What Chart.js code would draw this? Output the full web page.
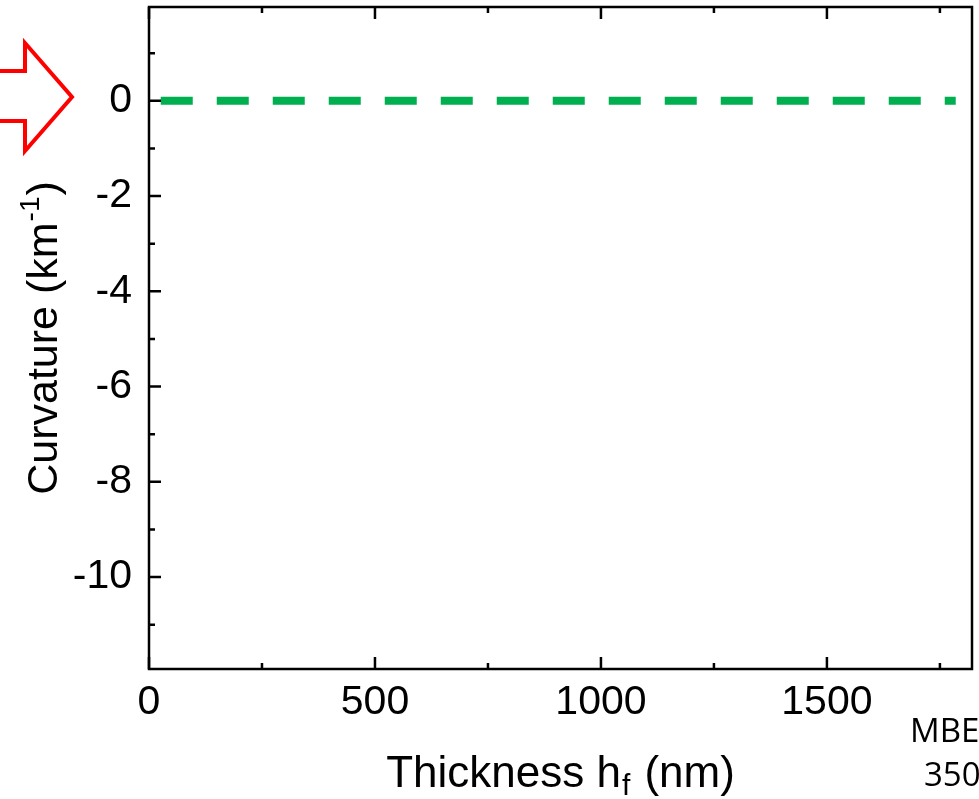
<!DOCTYPE html>
<html><head><meta charset="utf-8">
<script src="https://cdn.jsdelivr.net/npm/chart.js@4.4.0/dist/chart.umd.min.js"></script>
<style>html,body{margin:0;padding:0;background:#fff;overflow:hidden}#wrap{width:979px;height:799px;position:relative}</style>
</head><body><div id="wrap"><canvas id="c" width="979" height="799"></canvas></div>
<script>
// ---- data ----
const xTickValues = [0, 500, 1000, 1500];
const xMinorTicks = [250, 750, 1250, 1750];
const yTickValues = [-10, -8, -6, -4, -2, 0];
const yMinorTicks = [-11, -9, -7, -5, -3, -1, 1];
const lineX = [26, 1785];
const lineY = [0, 0];
const xTitleParts = ['Thickness h', 'f', ' (nm)'];
const yTitleParts = ['Curvature (km', '-1', ')'];
const noteLines = ['MBE', '350'];

const FAM = '"Liberation Sans", Arial, Helvetica, sans-serif';

const decor = {
  id: 'decor',
  afterDatasetsDraw(chart) {
    const ctx = chart.ctx, a = chart.chartArea;
    const xs = chart.scales.x, ys = chart.scales.y;
    ctx.save();
    ctx.strokeStyle = '#000';
    ctx.lineWidth = 2.5;
    ctx.lineCap = 'butt';
    ctx.strokeRect(a.left, a.top, a.right - a.left, a.bottom - a.top);
    ctx.beginPath();
    const MAJ = 12, MIN = 6;
    xTickValues.forEach(v => {
      const p = xs.getPixelForValue(v);
      ctx.moveTo(p, a.bottom); ctx.lineTo(p, a.bottom - MAJ);
      ctx.moveTo(p, a.top); ctx.lineTo(p, a.top + MAJ);
    });
    xMinorTicks.forEach(v => {
      const p = xs.getPixelForValue(v);
      ctx.moveTo(p, a.bottom); ctx.lineTo(p, a.bottom - MIN);
      ctx.moveTo(p, a.top); ctx.lineTo(p, a.top + MIN);
    });
    yTickValues.forEach(v => {
      const p = ys.getPixelForValue(v);
      ctx.moveTo(a.left, p); ctx.lineTo(a.left + MAJ, p);
    });
    yMinorTicks.forEach(v => {
      const p = ys.getPixelForValue(v);
      ctx.moveTo(a.left, p); ctx.lineTo(a.left + MIN, p);
    });
    ctx.stroke();
    ctx.restore();
  },
  afterDraw(chart) {
    const ctx = chart.ctx, a = chart.chartArea;
    ctx.save();
    ctx.fillStyle = '#000';
    ctx.textBaseline = 'alphabetic';
    ctx.textAlign = 'left';
    // x title with subscript
    const bigX = '44px ' + FAM, smallX = '30px ' + FAM;
    ctx.font = bigX; const w1 = ctx.measureText(xTitleParts[0]).width, w3 = ctx.measureText(xTitleParts[2]).width;
    ctx.font = smallX; const w2 = ctx.measureText(xTitleParts[1]).width;
    const cx = (a.left + a.right) / 2;
    const x0 = cx - (w1 + w2 + w3 + 3) / 2;
    const by = 787;
    ctx.font = bigX; ctx.fillText(xTitleParts[0], x0, by);
    ctx.font = smallX; ctx.fillText(xTitleParts[1], x0 + w1 + 1, by + 8);
    ctx.font = bigX; ctx.fillText(xTitleParts[2], x0 + w1 + w2 + 3, by);
    // y title rotated with superscript
    const bigY = '43px ' + FAM, smallY = '28px ' + FAM;
    ctx.font = bigY; const v1 = ctx.measureText(yTitleParts[0]).width, v3 = ctx.measureText(yTitleParts[2]).width;
    ctx.font = smallY; const v2 = ctx.measureText(yTitleParts[1]).width;
    ctx.translate(57, (a.top + a.bottom) / 2);
    ctx.rotate(-Math.PI / 2);
    const y0 = -(v1 + v2 + v3 + 2) / 2;
    ctx.font = bigY; ctx.fillText(yTitleParts[0], y0, 0);
    ctx.font = smallY; ctx.fillText(yTitleParts[1], y0 + v1 + 1, -18);
    ctx.font = bigY; ctx.fillText(yTitleParts[2], y0 + v1 + v2 + 2, 0);
    ctx.setTransform(1, 0, 0, 1, 0, 0);
    // note text
    ctx.font = '33px "Open Sans", "Noto Sans", sans-serif';
    ctx.fillText(noteLines[0], 910, 742);
    ctx.fillText(noteLines[1], 924, 786);
    // red block arrow
    ctx.strokeStyle = '#FF0000';
    ctx.lineWidth = 4;
    ctx.lineJoin = 'miter';
    ctx.beginPath();
    ctx.moveTo(-10, 71);
    ctx.lineTo(25, 71);
    ctx.lineTo(25, 43);
    ctx.lineTo(72, 97);
    ctx.lineTo(25, 151);
    ctx.lineTo(25, 121);
    ctx.lineTo(-10, 121);
    ctx.stroke();
    ctx.restore();
  }
};

new Chart(document.getElementById('c').getContext('2d'), {
  type: 'line',
  data: {
    datasets: [{
      data: lineX.map((x, i) => ({ x: x, y: lineY[i] })),
      borderColor: '#00B050',
      borderWidth: 8,
      borderDash: [32, 24],
      borderCapStyle: 'butt',
      pointRadius: 0,
      fill: false,
      tension: 0
    }]
  },
  options: {
    responsive: false,
    animation: false,
    events: [],
    layout: { padding: { top: 7, right: 7, left: 0, bottom: 0 } },
    plugins: { legend: { display: false }, tooltip: { enabled: false } },
    scales: {
      x: {
        type: 'linear', min: 0, max: 1821,
        grid: { display: false, drawTicks: false },
        border: { display: false },
        afterBuildTicks: s => { s.ticks = xTickValues.map(v => ({ value: v })); },
        afterFit: s => { s.height = 130; s.paddingLeft = 0; s.paddingRight = 0; },
        ticks: { font: { family: FAM, size: 41 }, color: '#000', padding: 9, maxRotation: 0, autoSkip: false,
                 callback: v => String(v) }
      },
      y: {
        type: 'linear', min: -11.93, max: 1.97,
        grid: { display: false, drawTicks: false },
        border: { display: false },
        afterBuildTicks: s => { s.ticks = yTickValues.map(v => ({ value: v })); },
        afterFit: s => { s.width = 149; s.paddingTop = 0; s.paddingBottom = 0; },
        ticks: { font: { family: FAM, size: 41 }, color: '#000', padding: 17, autoSkip: false,
                 callback: v => String(v) }
      }
    }
  },
  plugins: [decor]
});
</script>
</body></html>
